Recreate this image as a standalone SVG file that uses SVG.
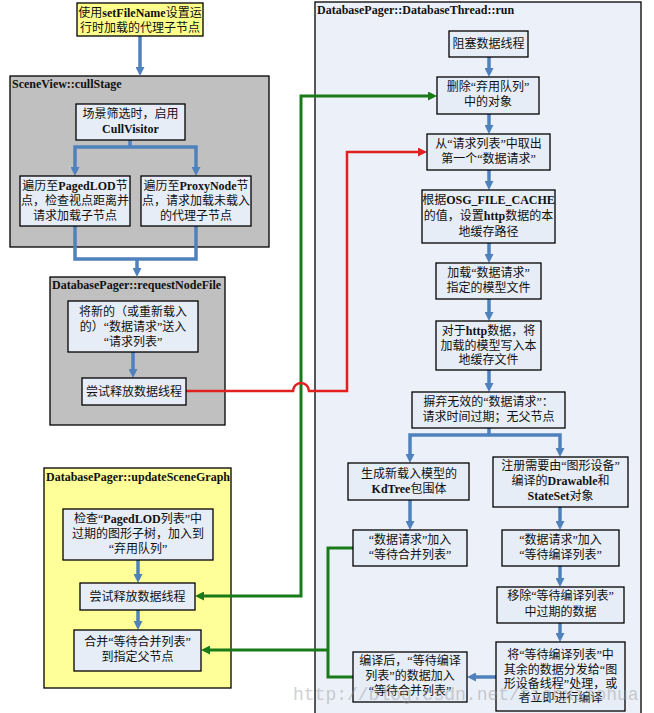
<svg xmlns="http://www.w3.org/2000/svg" width="654" height="713" viewBox="0 0 654 713">
<style>
.gray{fill:#C0C0C0;stroke:#000;stroke-width:1.3}
.yel{fill:#FFFF99;stroke:#000;stroke-width:1.3}
.thr{fill:#ECF1F9;stroke:#000;stroke-width:1.3}
.box{fill:#E7EDF7;stroke:#000;stroke-width:1.3}
text{font-family:"Liberation Serif","Noto Sans CJK SC",serif;font-size:12px;fill:#111}
.c{text-anchor:middle}
.ttl{font-weight:bold;font-size:12px}
.b{font-weight:bold}
.blue{fill:none;stroke:#4F81BD;stroke-width:3.5}
.green{fill:none;stroke:#187A18;stroke-width:3}
.red{fill:none;stroke:#E32020;stroke-width:2.5}
.wm{font-family:"Liberation Mono",monospace;font-size:18px;fill:#9a9a9a;opacity:0.45}
</style>
<defs>
<marker id="ab" viewBox="0 0 9 9" markerWidth="9" markerHeight="9" refX="5" refY="4.5" orient="auto" markerUnits="userSpaceOnUse"><path d="M0,0 L9,4.5 L0,9 z" fill="#4F81BD"/></marker>
<marker id="ag" viewBox="0 0 9 9" markerWidth="9" markerHeight="9" refX="5" refY="4.5" orient="auto-start-reverse" markerUnits="userSpaceOnUse"><path d="M0,0 L9,4.5 L0,9 z" fill="#187A18"/></marker>
<marker id="ar" viewBox="0 0 9 9" markerWidth="9" markerHeight="9" refX="5" refY="4.5" orient="auto" markerUnits="userSpaceOnUse"><path d="M0,0 L9,4.5 L0,9 z" fill="#E32020"/></marker>
</defs>
<rect width="654" height="713" fill="#fff"/>

<!-- containers -->
<g id="cullStage"><rect class="gray" x="10" y="76" width="259" height="171"/><text class="ttl" x="12" y="88">SceneView::cullStage</text></g>
<g id="requestNodeFile"><rect class="gray" x="50" y="277" width="175" height="148"/><text class="ttl" x="52" y="289">DatabasePager::requestNodeFile</text></g>
<g id="updateSceneGraph"><rect class="yel" x="44" y="468" width="187" height="220"/><text class="ttl" x="46" y="481">DatabasePager::updateSceneGraph</text></g>
<g id="databaseThread"><rect class="thr" x="315" y="2" width="326" height="715"/><text class="ttl" x="317" y="14">DatabasePager::DatabaseThread::run</text></g>

<!-- connectors -->
<g id="connectors">
<path class="blue" d="M140,36 V72" marker-end="url(#ab)"/>
<path class="blue" d="M130,140 V147"/>
<path class="blue" d="M130,147 H75 V172" marker-end="url(#ab)"/>
<path class="blue" d="M130,147 H196 V172" marker-end="url(#ab)"/>
<path class="blue" d="M75,226 V259 H196 V226"/>
<path class="blue" d="M137,259 V273" marker-end="url(#ab)"/>
<path class="blue" d="M133,352 V374" marker-end="url(#ab)"/>
<path class="blue" d="M138,560 V579" marker-end="url(#ab)"/>
<path class="blue" d="M138,610 V626" marker-end="url(#ab)"/>
<path class="blue" d="M489,57 V73" marker-end="url(#ab)"/>
<path class="blue" d="M489,114 V130" marker-end="url(#ab)"/>
<path class="blue" d="M489,170 V186" marker-end="url(#ab)"/>
<path class="blue" d="M489,243 V259" marker-end="url(#ab)"/>
<path class="blue" d="M489,299 V317" marker-end="url(#ab)"/>
<path class="blue" d="M489,370 V388" marker-end="url(#ab)"/>
<path class="blue" d="M489,428 V435"/>
<path class="blue" d="M489,435 H410 V459" marker-end="url(#ab)"/>
<path class="blue" d="M489,435 H560 V453" marker-end="url(#ab)"/>
<path class="blue" d="M410,500 V526" marker-end="url(#ab)"/>
<path class="blue" d="M560,507 V526" marker-end="url(#ab)"/>
<path class="blue" d="M560,566 V583" marker-end="url(#ab)"/>
<path class="blue" d="M560,623 V638" marker-end="url(#ab)"/>
<path class="blue" d="M496,677 H471" marker-end="url(#ab)"/>
<path class="green" d="M199,596 H301 V96 H433" marker-start="url(#ag)" marker-end="url(#ag)"/>
<path class="green" d="M353,548 H328 V677 H353"/>
<path class="green" d="M328,650 H205" marker-end="url(#ag)"/>
<path class="red" d="M186,391 H293 A8,8 0 0 1 309,391 H347 V152 H423" marker-end="url(#ar)"/>
</g>

<!-- nodes -->
<g id="setFileName"><rect x="77" y="3" width="126" height="33" fill="#FFFF8C" stroke="#000" stroke-width="1.3"/>
<text class="c" x="140" y="17">使用<tspan class="b">setFileName</tspan>设置运</text>
<text class="c" x="140" y="32">行时加载的代理子节点</text></g>

<g id="cullVisitor"><rect class="box" x="76" y="104" width="109" height="36"/>
<text class="c" x="130.5" y="118">场景筛选时，启用</text>
<text class="c b" x="130.5" y="133">CullVisitor</text></g>

<g id="pagedLOD"><rect class="box" x="20" y="176" width="110" height="50"/>
<text class="c" x="75" y="190">遍历至<tspan class="b">PagedLOD</tspan>节</text>
<text class="c" x="75" y="205">点，检查视点距离并</text>
<text class="c" x="75" y="220">请求加载子节点</text></g>

<g id="proxyNode"><rect class="box" x="141" y="176" width="110" height="50"/>
<text class="c" x="196" y="190">遍历至<tspan class="b">ProxyNode</tspan>节</text>
<text class="c" x="196" y="205">点，请求加载未载入</text>
<text class="c" x="196" y="220">的代理子节点</text></g>

<g id="sendRequest"><rect class="box" x="68" y="301" width="130" height="51"/>
<text class="c" x="133" y="316">将新的（或重新载入</text>
<text class="c" x="133" y="331">的）“数据请求”送入</text>
<text class="c" x="133" y="346">“请求列表”</text></g>

<g id="tryRelease1"><rect class="box" x="82" y="378" width="104" height="27"/>
<text class="c" x="134" y="396">尝试释放数据线程</text></g>

<g id="checkPagedLOD"><rect class="box" x="63" y="509" width="150" height="51"/>
<text class="c" x="138" y="523">检查“<tspan class="b">PagedLOD</tspan>列表”中</text>
<text class="c" x="138" y="538">过期的图形子树，加入到</text>
<text class="c" x="138" y="553">“弃用队列”</text></g>

<g id="tryRelease2"><rect class="box" x="80" y="583" width="115" height="27"/>
<text class="c" x="137.5" y="601">尝试释放数据线程</text></g>

<g id="merge"><rect class="box" x="74" y="630" width="127" height="41"/>
<text class="c" x="137.5" y="646">合并“等待合并列表”</text>
<text class="c" x="137.5" y="661">到指定父节点</text></g>

<g id="block"><rect class="box" x="449" y="31" width="79" height="26"/>
<text class="c" x="488.5" y="48">阻塞数据线程</text></g>

<g id="deleteQueue"><rect class="box" x="437" y="77" width="102" height="37"/>
<text class="c" x="488" y="91">删除“弃用队列”</text>
<text class="c" x="488" y="106">中的对象</text></g>

<g id="takeRequest"><rect class="box" x="427" y="134" width="123" height="36"/>
<text class="c" x="488.5" y="148">从“请求列表”中取出</text>
<text class="c" x="488.5" y="163">第一个“数据请求”</text></g>

<g id="fileCache"><rect class="box" x="422" y="190" width="133" height="53"/>
<text class="c" x="488.5" y="204">根据<tspan class="b">OSG_FILE_CACHE</tspan></text>
<text class="c" x="488.5" y="220">的值，设置<tspan class="b">http</tspan>数据的本</text>
<text class="c" x="488.5" y="236">地缓存路径</text></g>

<g id="loadModel"><rect class="box" x="436" y="263" width="105" height="36"/>
<text class="c" x="488.5" y="277">加载“数据请求”</text>
<text class="c" x="488.5" y="292">指定的模型文件</text></g>

<g id="writeCache"><rect class="box" x="436" y="321" width="105" height="49"/>
<text class="c" x="488.5" y="335">对于<tspan class="b">http</tspan>数据，将</text>
<text class="c" x="488.5" y="350">加载的模型写入本</text>
<text class="c" x="488.5" y="364">地缓存文件</text></g>

<g id="discard"><rect class="box" x="412" y="392" width="153" height="36"/>
<text class="c" x="488.5" y="406">摒弃无效的“数据请求”：</text>
<text class="c" x="488.5" y="421">请求时间过期；无父节点</text></g>

<g id="kdTree"><rect class="box" x="348" y="463" width="121" height="37"/>
<text class="c" x="409" y="478">生成新载入模型的</text>
<text class="c" x="409" y="493"><tspan class="b">KdTree</tspan>包围体</text></g>

<g id="toMergeList"><rect class="box" x="353" y="530" width="114" height="36"/>
<text class="c" x="410" y="544">“数据请求”加入</text>
<text class="c" x="410" y="559">“等待合并列表”</text></g>

<g id="register"><rect class="box" x="493" y="457" width="135" height="50"/>
<text class="c" x="560.5" y="470">注册需要由“图形设备”</text>
<text class="c" x="560.5" y="485">编译的<tspan class="b">Drawable</tspan>和</text>
<text class="c" x="560.5" y="500"><tspan class="b">StateSet</tspan>对象</text></g>

<g id="toCompileList"><rect class="box" x="502" y="530" width="117" height="36"/>
<text class="c" x="560.5" y="544">“数据请求”加入</text>
<text class="c" x="560.5" y="559">“等待编译列表”</text></g>

<g id="removeExpired"><rect class="box" x="497" y="587" width="127" height="36"/>
<text class="c" x="560.5" y="600">移除“等待编译列表”</text>
<text class="c" x="560.5" y="616">中过期的数据</text></g>

<g id="dispatch"><rect class="box" x="496" y="642" width="129" height="69"/>
<text class="c" x="560.5" y="659">将“等待编译列表”中</text>
<text class="c" x="560.5" y="673.5">其余的数据分发给“图</text>
<text class="c" x="560.5" y="688">形设备线程”处理，或</text>
<text class="c" x="560.5" y="702">者立即进行编译</text></g>

<g id="compiled"><rect class="box" x="353" y="652" width="114" height="50"/>
<text class="c" x="410" y="665">编译后，“等待编译</text>
<text class="c" x="410" y="680">列表”的数据加入</text>
<text class="c" x="410" y="695">“等待合并列表”</text></g>

<text class="wm" x="293" y="700">http://blog.csdn.net/tianxiaohua</text>
</svg>
